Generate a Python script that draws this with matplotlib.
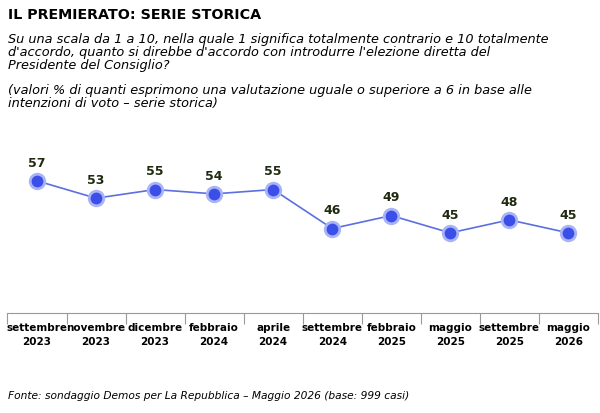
import numpy as np
import matplotlib.pyplot as plt

months = ["settembre", "novembre", "dicembre", "febbraio", "aprile",
          "settembre", "febbraio", "maggio", "settembre", "maggio"]
years = ["2023", "2023", "2023", "2024", "2024", "2024", "2025", "2025", "2025", "2026"]
values = [57, 53, 55, 54, 55, 46, 49, 45, 48, 45]

fig = plt.figure(figsize=(6, 4.13), dpi=100)
fig.patch.set_facecolor("white")

fig.text(0.013, 0.963, "IL PREMIERATO: SERIE STORICA", fontsize=10.3, fontweight="bold",
         va="center", ha="left")
fig.text(0.013, 0.872, "Su una scala da 1 a 10, nella quale 1 significa totalmente contrario e 10 totalmente\n"
         "d'accordo, quanto si direbbe d'accordo con introdurre l'elezione diretta del\n"
         "Presidente del Consiglio?", fontsize=9.3, style="italic", va="center", ha="left",
         linespacing=1.0)
fig.text(0.013, 0.765, "(valori % di quanti esprimono una valutazione uguale o superiore a 6 in base alle\n"
         "intenzioni di voto \u2013 serie storica)", fontsize=9.3, style="italic", va="center",
         ha="left", linespacing=1.0)
fig.text(0.013, 0.04, "Fonte: sondaggio Demos per La Repubblica \u2013 Maggio 2026 (base: 999 casi)",
         fontsize=7.7, style="italic", va="center", ha="left")

ax = fig.add_axes([0.0125, 0.242, 0.984, 0.404])
x = np.arange(len(values))
ax.plot(x, values, color="#5b6fe0", lw=1.2, zorder=2)
ax.scatter(x, values, s=110, color="#3b4fe8", edgecolor="#a8b4f5", linewidth=2, zorder=3)
for xi, v in zip(x, values):
    ax.text(xi, v + 2.6, str(v), ha="center", va="bottom", fontsize=9, fontweight="bold",
            color="#1f2a10")

ax.set_xlim(-0.5, 9.5)
ax.set_ylim(26.5, 65)
for s in ["top", "right", "left"]:
    ax.spines[s].set_visible(False)
ax.spines["bottom"].set_color("#999999")
ax.set_yticks([])
ax.set_xticks(np.arange(-0.5, 10, 1.0))
ax.set_xticklabels([])
ax.tick_params(axis="x", length=8, color="#999999")
for xi, m, yv in zip(x, months, years):
    ax.text(xi, -0.06, m + "\n" + yv, transform=ax.get_xaxis_transform(), ha="center",
            va="top", fontsize=7.5, fontweight="bold", linespacing=1.55)

fig.savefig("out.png", dpi=100)
